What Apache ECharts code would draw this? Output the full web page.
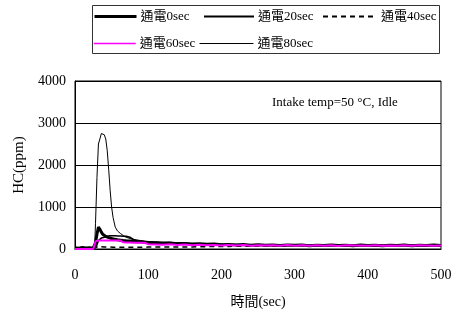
<!DOCTYPE html>
<html>
<head>
<meta charset="utf-8">
<script src="https://cdn.jsdelivr.net/npm/echarts@6/dist/echarts.min.js"></script>
<style>
  html, body { margin: 0; padding: 0; background: #fff; }
  #chart { width: 457px; height: 320px; }
</style>
</head>
<body>
<div id="chart"></div>
<script>
// 時間 (sec)
const times = [0, 5, 10, 15, 20, 25, 27, 28, 30, 32, 34, 36, 38, 40, 42, 44, 46, 48, 50, 52,
  55, 58, 62, 66, 70, 75, 80, 85, 90, 95, 100,
  110, 120, 130, 140, 150, 160, 170, 180, 190, 200,
  210, 220, 230, 240, 250, 260, 270, 280, 290, 300,
  310, 320, 330, 340, 350, 360, 370, 380, 390, 400,
  410, 420, 430, 440, 450, 460, 470, 480, 490, 500];

// HC (ppm) per series
const hc0 = [30, 20, 35, 25, 30, 20, 40, 150, 350, 520, 470, 400, 350, 320, 300, 280, 270, 260, 250, 240,
  230, 220, 210, 200, 195, 190, 180, 175, 170, 160, 155,
  150, 140, 145, 128, 130, 118, 125, 112, 118, 100,
  110, 95, 105, 92, 100, 88, 98, 85, 95, 88,
  95, 80, 92, 84, 96, 82, 90, 80, 94, 85,
  90, 78, 92, 84, 95, 80, 88, 82, 96, 85];
const hc20 = [10, 15, 10, 15, 10, 15, 20, 40, 100, 200, 240, 260, 270, 280, 290, 300, 310, 315, 315, 315,
  315, 310, 310, 305, 300, 280, 220, 190, 175, 165, 160,
  150, 145, 140, 135, 130, 125, 120, 118, 115, 110,
  108, 105, 102, 100, 98, 96, 95, 94, 92, 92,
  90, 90, 88, 88, 86, 86, 85, 85, 84, 84,
  83, 83, 82, 82, 82, 81, 81, 80, 80, 80];
const hc40 = [10, 12, 10, 12, 10, 12, 15, 30, 60, 70, 60, 55, 50, 50, 48, 46, 45, 45, 44, 44,
  42, 42, 40, 40, 40, 40, 40, 40, 40, 40, 45,
  45, 45, 45, 48, 50, 50, 55, 55, 60, 60,
  62, 65, 65, 68, 70, 70, 72, 72, 75, 75,
  76, 78, 78, 80, 80, 82, 82, 84, 84, 85,
  85, 86, 86, 88, 88, 88, 90, 90, 90, 90];
const hc60 = [0, 0, 0, 0, 0, 0, 0, 180, 200, 205, 205, 205, 205, 205, 205, 205, 205, 205, 205, 205,
  205, 205, 200, 160, 155, 155, 150, 150, 150, 150, 115,
  110, 100, 112, 95, 105, 90, 100, 88, 98, 85,
  95, 82, 96, 80, 92, 84, 90, 78, 94, 80,
  88, 76, 92, 80, 90, 74, 88, 82, 86, 76,
  90, 78, 86, 80, 92, 76, 88, 84, 80, 82];
const hc80 = [20, 35, 25, 40, 20, 30, 120, 600, 1700, 2500, 2620, 2750, 2780, 2720, 2620, 2350, 1900, 1400, 1000, 750,
  520, 430, 370, 320, 280, 250, 230, 215, 200, 190, 180,
  170, 155, 160, 140, 145, 125, 130, 115, 120, 105,
  112, 98, 108, 92, 100, 90, 98, 86, 96, 88,
  92, 82, 95, 84, 90, 80, 94, 82, 92, 80,
  88, 80, 94, 78, 90, 82, 92, 80, 88, 84];

const xTicks = [0, 100, 200, 300, 400, 500];
const yTicks = [0, 1000, 2000, 3000, 4000];

const serif = "'Liberation Serif', 'Noto Sans CJK TC', serif";

function pairs(vals) {
  return times.map((t, i) => [t, vals[i]]);
}

function legendAt(name, left, top, w, lw) {
  return {
    data: [name], left: left, top: top, itemWidth: w, itemHeight: 12,
    padding: 0, itemGap: 0, selectedMode: false,
    itemStyle: { opacity: 0 },
    lineStyle: { width: lw },
    textStyle: { fontFamily: serif, fontSize: 13, color: '#000', padding: [0, 0, 0, -1] }
  };
}

const chart = echarts.init(document.getElementById('chart'));
chart.setOption({
  animation: false,
  backgroundColor: '#fff',
  legend: [
    legendAt('通電0sec', 93, 10, 42, 3),
    legendAt('通電20sec', 203, 10, 50, 2),
    legendAt('通電40sec', 322, 10, 54, 2),
    legendAt('通電60sec', 93, 37, 42, 1.5),
    legendAt('通電80sec', 199, 37, 54, 1)
  ],
  graphic: [
    {
      type: 'rect', shape: { x: 92.5, y: 5.5, width: 347, height: 48 },
      style: { fill: 'none', stroke: '#333', lineWidth: 1 }
    },
    {
      type: 'text', left: 272, top: 96,
      style: { text: 'Intake temp=50 °C, Idle', font: '13px ' + serif, fill: '#000' }
    }
  ],
  grid: { left: 75, right: 16, top: 81, bottom: 71, show: true, borderColor: '#000', borderWidth: 1 },
  xAxis: {
    type: 'value', min: 0, max: 500, interval: 100,
    name: '時間(sec)', nameLocation: 'middle', nameGap: 46,
    nameTextStyle: { fontFamily: serif, fontSize: 14, color: '#000' },
    axisLine: { lineStyle: { color: '#000' } },
    axisTick: { show: false },
    splitLine: { show: false },
    axisLabel: {
      fontFamily: serif, fontSize: 14, color: '#000', margin: 19,
      formatter: v => xTicks.includes(v) ? String(v) : ''
    }
  },
  yAxis: {
    type: 'value', min: 0, max: 4000, interval: 1000,
    name: 'HC(ppm)', nameLocation: 'middle', nameGap: 48, nameRotate: 90,
    nameTextStyle: { fontFamily: serif, fontSize: 15, color: '#000' },
    axisLine: { show: true, lineStyle: { color: '#000' } },
    axisTick: { show: false },
    splitLine: { lineStyle: { color: '#000', width: 1 } },
    axisLabel: {
      fontFamily: serif, fontSize: 14, color: '#000', margin: 9,
      formatter: v => yTicks.includes(v) ? String(v) : ''
    }
  },
  series: [
    { name: '通電80sec', type: 'line', data: pairs(hc80), symbol: 'none',
      lineStyle: { color: '#000', width: 1 }, itemStyle: { color: '#000' } },
    { name: '通電40sec', type: 'line', data: pairs(hc40), symbol: 'none',
      lineStyle: { color: '#000', width: 1.5, type: [5, 4] }, itemStyle: { color: '#000' } },
    { name: '通電20sec', type: 'line', data: pairs(hc20), symbol: 'none',
      lineStyle: { color: '#000', width: 1.6 }, itemStyle: { color: '#000' } },
    { name: '通電0sec', type: 'line', data: pairs(hc0), symbol: 'none',
      lineStyle: { color: '#000', width: 3 }, itemStyle: { color: '#000' } },
    { name: '通電60sec', type: 'line', data: pairs(hc60), symbol: 'none',
      lineStyle: { color: '#ff00ff', width: 2 }, itemStyle: { color: '#ff00ff' } }
  ]
});
</script>
</body>
</html>
